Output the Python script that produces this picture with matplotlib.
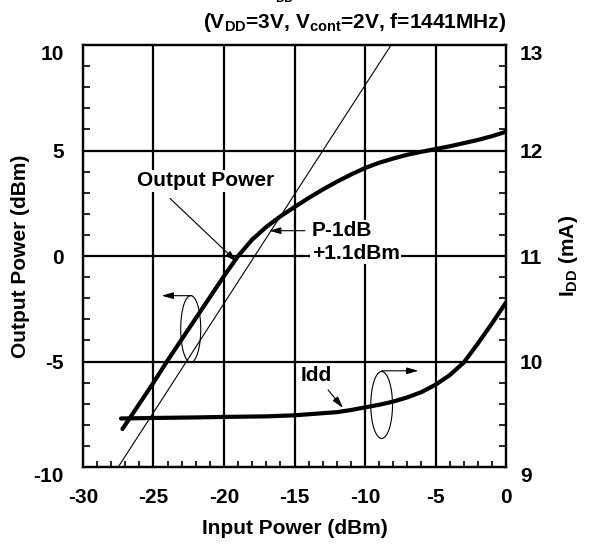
import matplotlib
matplotlib.use("Agg")
from matplotlib import pyplot as plt
from matplotlib.patches import Ellipse
from matplotlib.ticker import MultipleLocator
from matplotlib.transforms import ScaledTranslation

plt.rcParams['font.family'] = ['Liberation Sans', 'DejaVu Sans']
plt.rcParams['font.weight'] = 'bold'
plt.rcParams['mathtext.fontset'] = 'custom'
plt.rcParams['mathtext.rm'] = 'Liberation Sans:bold'
plt.rcParams['mathtext.default'] = 'rm'

# output power vs input power (dBm)
pin_out = [-27.2, -26, -25, -24, -23, -22, -21, -20, -19, -18, -17, -16,
           -15, -14, -13, -12, -11, -10, -9, -8, -7, -6, -5, -4, -3, -2, -1, 0]
pout = [-8.2, -7.0, -6.0, -4.95, -3.95, -2.95, -1.95, -0.95, 0.0, 0.78, 1.38, 1.88,
        2.32, 2.75, 3.15, 3.52, 3.86, 4.17, 4.42, 4.62, 4.8, 4.94, 5.07, 5.2, 5.35, 5.5, 5.68, 5.89]

# linear reference line
pin_lin = [-27.5, -8.15]
pout_lin = [-10.0, 10.0]

# supply current (mA)
pin_idd = [-27.3, -25, -22, -20, -17, -15, -13, -12, -11, -10, -9, -8, -7, -6, -5,
           -4, -3, -2, -1, 0]
idd = [9.46, 9.465, 9.47, 9.475, 9.48, 9.49, 9.51, 9.52, 9.54, 9.565, 9.59, 9.62,
       9.66, 9.71, 9.78, 9.87, 9.99, 10.17, 10.36, 10.56]

fig = plt.figure(figsize=(5.94, 5.45), dpi=100)
ax = fig.add_axes([0.1397, 0.1431, 0.7122, 0.7743])
ax2 = ax.twinx()

ax.set_xlim(-30, 0)
ax.set_ylim(-10, 10)
ax2.set_ylim(9, 13)

for x in [-25, -20, -15, -10, -5]:
    ax.axvline(x, color='black', lw=1.6, zorder=1)
for y in [-5, 0, 5]:
    ax.axhline(y, color='black', lw=1.6, zorder=1)

ax.plot(pin_lin, pout_lin, color='black', lw=0.8, zorder=3)
ax.plot(pin_out, pout, color='black', lw=3, zorder=4, solid_capstyle='round',
        solid_joinstyle='round')
ax2.plot(pin_idd, idd, color='black', lw=3, zorder=4, solid_capstyle='round',
         solid_joinstyle='round')

for a in (ax, ax2):
    for s in a.spines.values():
        s.set_linewidth(1.6)

ax.xaxis.set_major_locator(MultipleLocator(5))
ax.xaxis.set_minor_locator(MultipleLocator(1))
ax.yaxis.set_major_locator(MultipleLocator(5))
ax.yaxis.set_minor_locator(MultipleLocator(1))
ax2.yaxis.set_major_locator(MultipleLocator(1))
ax2.yaxis.set_minor_locator(MultipleLocator(0.2))

fs = 15
ax.tick_params(axis='x', which='major', direction='in', length=0, pad=15, labelsize=fs)
ax.tick_params(axis='x', which='minor', direction='in', length=4, width=1.2)
ax.tick_params(axis='y', which='major', direction='in', length=0, pad=14, labelsize=fs)
ax.tick_params(axis='y', which='minor', direction='in', length=5, width=1.2)
ax2.tick_params(axis='y', which='major', direction='in', length=0, pad=10, labelsize=fs)
ax2.tick_params(axis='y', which='minor', direction='in', length=5, width=1.2)

ax.set_xticks([-30, -25, -20, -15, -10, -5, 0])
ax.set_xticklabels(['-30', '-25', '-20', '-15', '-10', '-5', '0'])
ax.set_yticks([-10, -5, 0, 5, 10])
ax.set_yticklabels(['-10', '-5', '0', '5', '10'])
ax2.set_yticks([9, 10, 11, 12, 13])
ax2.set_yticklabels(['9', '10', '11', '12', '13'])

# nudge the end labels down like the original
for lbl in (ax.get_yticklabels()[0], ax.get_yticklabels()[-1],
            ax2.get_yticklabels()[0], ax2.get_yticklabels()[-1]):
    lbl.set_transform(lbl.get_transform() + ScaledTranslation(0, -0.07, fig.dpi_scale_trans))

ax.set_xlabel('Input Power (dBm)', fontsize=fs, fontweight='bold', labelpad=9)
ax.set_ylabel('Output Power (dBm)', fontsize=fs, fontweight='bold', labelpad=2)
ax2.set_ylabel('I$_{\\mathrm{DD}}$ (mA)', fontsize=fs, fontweight='bold', labelpad=10)

fig.text(355 / 594, 1 - 22 / 545, '(V$_{\\mathrm{DD}}$=3V, V$_{\\mathrm{cont}}$=2V, f=1441MHz)',
         ha='center', va='center', fontsize=fs, fontweight='bold')
fig.text(284 / 594, 1 + 1 / 545, 'DD', ha='center', va='center', fontsize=9, fontweight='bold')

box = dict(facecolor='white', edgecolor='none', pad=1)
arr = dict(arrowstyle='-|>,head_length=0.7,head_width=0.2', color='black', lw=0.8,
           shrinkA=0, shrinkB=0)

ax2.text(-21.31, 3.57 * 0.2 + 11, 'Output Power', ha='center', va='center', fontsize=fs,
         fontweight='bold', bbox=box, zorder=6)
ax.annotate('', xy=(-19.1, -0.27), xytext=(-23.83, 2.73), arrowprops=arr, zorder=6)

ax2.text(-13.78, 1.2 * 0.2 + 11, 'P-1dB', ha='left', va='center', fontsize=fs,
         fontweight='bold', bbox=box, zorder=6)
ax2.text(-13.78, 0.13 * 0.2 + 11, '+1.1dBm', ha='left', va='center', fontsize=fs,
         fontweight='bold', bbox=box, zorder=6)
ax.annotate('', xy=(-16.8, 1.2), xytext=(-14.26, 1.2), arrowprops=arr, zorder=6)

ax2.text(-13.43, -5.64 * 0.2 + 11, 'Idd', ha='center', va='center', fontsize=fs,
         fontweight='bold', zorder=6)
ax.annotate('', xy=(-11.56, -7.2), xytext=(-12.62, -6.35), arrowprops=arr, zorder=6)

ax.add_patch(Ellipse((-22.36, -3.46), 1.42, 3.17, fill=False, lw=0.8, color='black', zorder=6))
ax.annotate('', xy=(-24.42, -1.88), xytext=(-22.29, -1.88), arrowprops=arr, zorder=6)
ax.add_patch(Ellipse((-8.82, -7.06), 1.54, 3.17, fill=False, lw=0.8, color='black', zorder=6))
ax.annotate('', xy=(-6.22, -5.44), xytext=(-8.82, -5.44), arrowprops=arr, zorder=6)

fig.savefig('out.png', dpi=100)
